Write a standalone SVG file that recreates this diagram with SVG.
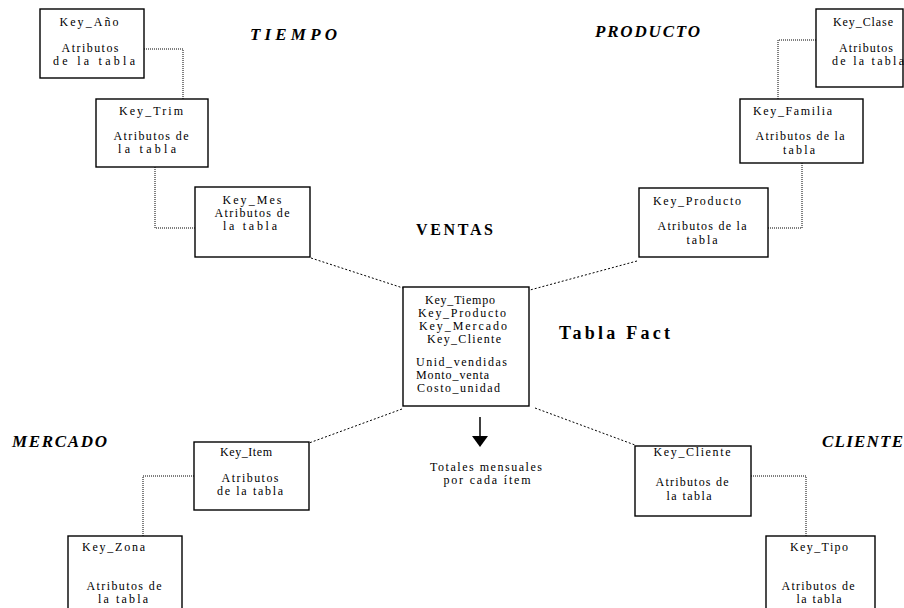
<svg xmlns="http://www.w3.org/2000/svg" width="904" height="608" viewBox="0 0 904 608">
<style>
.box{fill:#fff;stroke:#000;stroke-width:1.4}
.t{font-family:"Liberation Serif","Times New Roman",serif;font-size:12px;fill:#000}
.m{text-anchor:middle}
.h{font-family:"Liberation Serif","Times New Roman",serif;font-size:17px;font-weight:bold;font-style:italic;fill:#000}
.b{font-family:"Liberation Serif","Times New Roman",serif;font-weight:bold;fill:#000}
.c{fill:none;stroke:#000;stroke-width:1;stroke-dasharray:1 1}
.d{fill:none;stroke:#000;stroke-width:1;stroke-dasharray:2 2}
</style>
<rect width="904" height="608" fill="#fff"/>
<g id="connectors">
<polyline class="c" points="144,49 183,49 183,99"/>
<polyline class="c" points="155,167 155,228 195,228"/>
<polyline class="c" points="816,40 778,40 778,99"/>
<polyline class="c" points="802,163 802,228 768,228"/>
<polyline class="c" points="194,476 143,476 143,536"/>
<polyline class="c" points="751,476 806,476 806,536"/>
<line class="d" x1="311" y1="258" x2="403" y2="288"/>
<line class="d" x1="637" y1="261" x2="530" y2="290"/>
<line class="d" x1="402" y1="409" x2="309" y2="443"/>
<line class="d" x1="535" y1="408" x2="635" y2="445"/>
<line x1="480" y1="417" x2="480" y2="437" stroke="#000" stroke-width="1.5"/>
<polygon points="472,436 488,436 480,447" fill="#000"/>
</g>
<g id="labels">
<text class="h" x="250" y="40" textLength="87" lengthAdjust="spacing">TIEMPO</text>
<text class="h" x="595" y="37" textLength="105" lengthAdjust="spacing">PRODUCTO</text>
<text class="h" x="12" y="447" textLength="95" lengthAdjust="spacing">MERCADO</text>
<text class="h" x="822" y="447" textLength="81" lengthAdjust="spacing">CLIENTE</text>
<text class="b" x="416" y="235" font-size="16" textLength="77" lengthAdjust="spacing">VENTAS</text>
<text class="b" x="559" y="339" font-size="18" textLength="111" lengthAdjust="spacing">Tabla Fact</text>
<text class="t m" x="486" y="471" font-size="11" textLength="112" lengthAdjust="spacing">Totales mensuales</text>
<text class="t m" x="487" y="484" font-size="11" textLength="87" lengthAdjust="spacing">por cada ítem</text>
</g>
<g id="anio">
<rect class="box" x="40" y="9" width="104" height="69"/>
<text class="t m" x="89" y="26" textLength="59" lengthAdjust="spacing">Key_Año</text>
<text class="t m" x="90" y="52" textLength="57" lengthAdjust="spacing">Atributos</text>
<text class="t m" x="94" y="65" textLength="82" lengthAdjust="spacing">de la  tabla</text>
</g>
<g id="trim">
<rect class="box" x="96" y="99" width="112" height="68"/>
<text class="t m" x="151" y="115" textLength="64" lengthAdjust="spacing">Key_Trim</text>
<text class="t m" x="151" y="140" textLength="75" lengthAdjust="spacing">Atributos de</text>
<text class="t m" x="147" y="153" textLength="58" lengthAdjust="spacing">la  tabla</text>
</g>
<g id="mes">
<rect class="box" x="195" y="187" width="115" height="70"/>
<text class="t m" x="252" y="204" textLength="59" lengthAdjust="spacing">Key_Mes</text>
<text class="t m" x="252" y="217" textLength="75" lengthAdjust="spacing">Atributos de</text>
<text class="t m" x="250" y="230" textLength="54" lengthAdjust="spacing">la  tabla</text>
</g>
<g id="clase">
<rect class="box" x="816" y="9" width="87" height="78"/>
<text class="t m" x="863" y="26" textLength="60" lengthAdjust="spacing">Key_Clase</text>
<text class="t m" x="866" y="52" textLength="54" lengthAdjust="spacing">Atributos</text>
<text class="t m" x="868" y="65" textLength="72" lengthAdjust="spacing">de la  tabla</text>
</g>
<g id="familia">
<rect class="box" x="740" y="99" width="123" height="64"/>
<text class="t" x="753" y="115" textLength="79" lengthAdjust="spacing">Key_Familia</text>
<text class="t m" x="800" y="140" textLength="89" lengthAdjust="spacing">Atributos de la</text>
<text class="t m" x="799" y="154" textLength="32" lengthAdjust="spacing">tabla</text>
</g>
<g id="producto">
<rect class="box" x="639" y="188" width="129" height="69"/>
<text class="t" x="653" y="205" textLength="88" lengthAdjust="spacing">Key_Producto</text>
<text class="t m" x="702" y="230" textLength="89" lengthAdjust="spacing">Atributos de la</text>
<text class="t m" x="702" y="244" textLength="31" lengthAdjust="spacing">tabla</text>
</g>
<g id="fact">
<rect class="box" x="403" y="287" width="126" height="119"/>
<text class="t m" x="460" y="304" textLength="70" lengthAdjust="spacing">Key_Tiempo</text>
<text class="t m" x="462" y="317" textLength="88" lengthAdjust="spacing">Key_Producto</text>
<text class="t m" x="463" y="330" textLength="88" lengthAdjust="spacing">Key_Mercado</text>
<text class="t m" x="464" y="343" textLength="74" lengthAdjust="spacing">Key_Cliente</text>
<text class="t" x="416" y="366" textLength="91" lengthAdjust="spacing">Unid_vendidas</text>
<text class="t" x="416" y="379" textLength="73" lengthAdjust="spacing">Monto_venta</text>
<text class="t" x="417" y="392" textLength="83" lengthAdjust="spacing">Costo_unidad</text>
</g>
<g id="item">
<rect class="box" x="194" y="442" width="115" height="68"/>
<text class="t m" x="246" y="456" textLength="52" lengthAdjust="spacing">Key_Item</text>
<text class="t m" x="250" y="482" textLength="57" lengthAdjust="spacing">Atributos</text>
<text class="t m" x="250" y="495" textLength="66" lengthAdjust="spacing">de la tabla</text>
</g>
<g id="zona">
<rect class="box" x="68" y="536" width="114" height="80"/>
<text class="t" x="82" y="551" textLength="63" lengthAdjust="spacing">Key_Zona</text>
<text class="t m" x="124" y="590" textLength="75" lengthAdjust="spacing">Atributos de</text>
<text class="t m" x="123" y="603" textLength="50" lengthAdjust="spacing">la  tabla</text>
</g>
<g id="cliente">
<rect class="box" x="635" y="446" width="116" height="70"/>
<text class="t m" x="692" y="456" textLength="77" lengthAdjust="spacing">Key_Cliente</text>
<text class="t m" x="692" y="486" textLength="73" lengthAdjust="spacing">Atributos de</text>
<text class="t m" x="689" y="500" textLength="45" lengthAdjust="spacing">la tabla</text>
</g>
<g id="tipo">
<rect class="box" x="766" y="536" width="109" height="80"/>
<text class="t m" x="819" y="551" textLength="58" lengthAdjust="spacing">Key_Tipo</text>
<text class="t m" x="818" y="590" textLength="73" lengthAdjust="spacing">Atributos de</text>
<text class="t m" x="819" y="603" textLength="45" lengthAdjust="spacing">la tabla</text>
</g>
</svg>
